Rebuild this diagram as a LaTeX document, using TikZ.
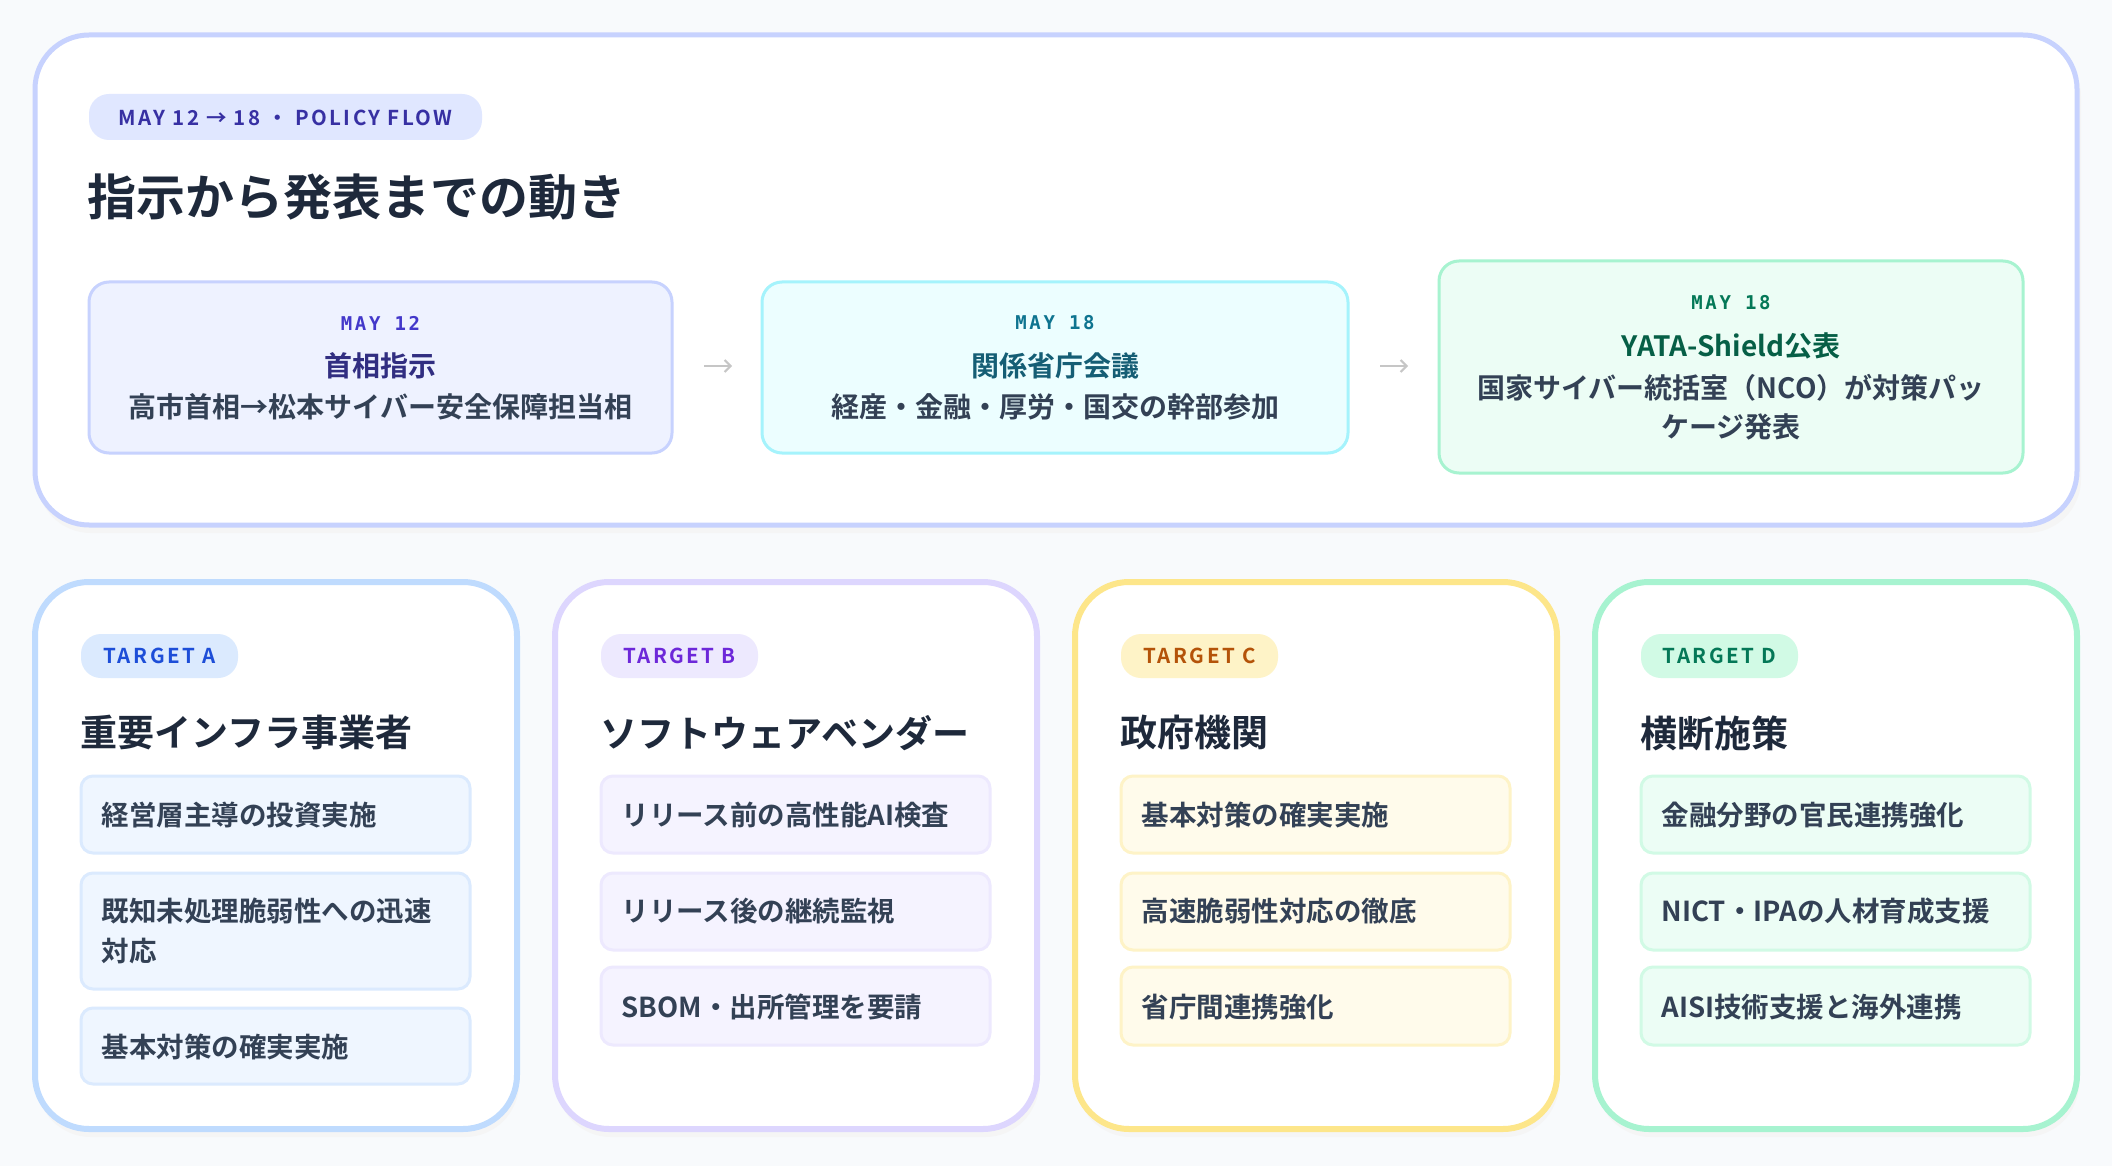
\documentclass[tikz,border=0pt]{standalone}
\usepackage{fontspec}
\setmainfont{Noto Sans CJK JP}[BoldFont={Noto Sans CJK JP Bold}]
\newfontfamily\mono{DejaVu Sans Mono}[LetterSpace=14]
\newfontfamily\spaced{Noto Sans CJK JP Bold}[LetterSpace=12]
\definecolor{bg}{HTML}{F8FAFC}
\definecolor{ink}{HTML}{1E293B}
\definecolor{itemink}{HTML}{334155}
\usetikzlibrary{arrows.meta}
\tikzset{
  x=1pt,y=-1pt,
  flowbox/.style={line width=3pt,rounded corners=20pt},
  pill/.style={rounded corners=20pt},
  itembox/.style={line width=3pt,rounded corners=12pt},
  itemtxt/.style={anchor=west,align=left,font=\bfseries\fontsize{27.5}{40}\selectfont,text=itemink},
  head/.style={anchor=west,font=\bfseries\fontsize{37}{40}\selectfont,text=ink},
  flowarrow/.style={draw=gray!45,line width=2pt,-{Straight Barb[length=6pt]}},
}
\begin{document}
\begin{tikzpicture}
\fill[bg] (0,0) rectangle (2112,1166);
\useasboundingbox (0,0) rectangle (2112,1166);
% top panel
\definecolor{lav}{HTML}{C7D2FE}
\fill[black!4,rounded corners=54pt] (37,43) rectangle (2081,533);
\draw[draw=lav,line width=5pt,fill=white,rounded corners=54pt] (35,35) rectangle (2077,525);
\fill[pill,fill={rgb,255:red,224;green,231;blue,255}] (89,94) rectangle (482,140);
\node[font=\spaced\fontsize{20.5}{24}\selectfont,text={rgb,255:red,55;green,48;blue,163}] (pilltop) at (285.5,118) {MAY 12 → 18 ・ POLICY FLOW};
\node[anchor=west,font=\bfseries\fontsize{49}{56}\selectfont,text=ink] (title) at (84,197) {指示から発表までの動き};
% flow boxes
\definecolor{f1}{HTML}{EEF2FF}\definecolor{b1}{HTML}{C7D2FE}
\definecolor{f2}{HTML}{ECFEFF}\definecolor{b2}{HTML}{A5F3FC}
\definecolor{f3}{HTML}{ECFDF5}\definecolor{b3}{HTML}{A7F3D0}
\draw[flowbox,fill=f1,draw=b1] (89,282) rectangle (672,453);
\draw[flowbox,fill=f2,draw=b2] (762,282) rectangle (1348,453);
\draw[flowbox,fill=f3,draw=b3] (1439,261) rectangle (2023,473);
\node[font=\mono\bfseries\fontsize{19}{22}\selectfont,text={rgb,255:red,67;green,56;blue,202}] (m1) at (380.5,323) {MAY 12};
\node[font=\bfseries\fontsize{28}{32}\selectfont,text={rgb,255:red,49;green,46;blue,129}] (t1) at (380.5,366) {首相指示};
\node[font=\bfseries\fontsize{28}{32}\selectfont,text=itemink] (s1) at (380.5,407) {高市首相→松本サイバー安全保障担当相};
\node[font=\mono\bfseries\fontsize{19}{22}\selectfont,text={rgb,255:red,14;green,116;blue,144}] (m2) at (1055,323) {MAY 18};
\node[font=\bfseries\fontsize{28}{32}\selectfont,text={rgb,255:red,21;green,94;blue,117}] (t2) at (1055,366) {関係省庁会議};
\node[font=\bfseries\fontsize{28}{32}\selectfont,text=itemink] (s2) at (1055,407) {経産・金融・厚労・国交の幹部参加};
\node[font=\mono\bfseries\fontsize{19}{22}\selectfont,text={rgb,255:red,4;green,120;blue,87}] (m3) at (1731,303) {MAY 18};
\node[font=\bfseries\fontsize{28}{32}\selectfont,text={rgb,255:red,6;green,95;blue,70}] (t3) at (1731,346) {YATA-Shield公表};
\node[font=\bfseries\fontsize{28}{39}\selectfont,text=itemink,align=center] (s3) at (1731,407) {国家サイバー統括室（NCO）が対策パッ\\ケージ発表};
\coordinate (a1s) at (704,366); \coordinate (a1e) at (732,366);
\coordinate (a2s) at (1380,366); \coordinate (a2e) at (1408,366);
\draw[flowarrow] (a1s) -- (a1e);
\draw[flowarrow] (a2s) -- (a2e);
% cards
\foreach \x/\bc/\pf/\pt/\lab/\hd in {
 35/BFDBFE/DBEAFE/1D4ED8/TARGET A/重要インフラ事業者,
 555/DDD6FE/EDE9FE/6D28D9/TARGET B/ソフトウェアベンダー,
 1075/FDE68A/FEF3C7/B45309/TARGET C/政府機関,
 1595/A7F3D0/D1FAE5/047857/TARGET D/横断施策}{
 \definecolor{cb}{HTML}{\bc}\definecolor{cp}{HTML}{\pf}\definecolor{ct}{HTML}{\pt}
 \fill[black!4,rounded corners=54pt] (\x+2,590) rectangle (\x+484,1137);
 \draw[draw=cb,line width=6pt,fill=white,rounded corners=54pt] (\x,582) rectangle (\x+482,1129);
 \fill[pill,fill=cp] (\x+46,634) rectangle (\x+203,678);
 \node[font=\spaced\fontsize{20.5}{24}\selectfont,text=ct] at (\x+124.5,656) {\lab};
 \node[head] at (\x+42,733) {\hd};
}
\foreach \x/\itf/\itb in {35/EFF6FF/DBEAFE,555/F5F3FF/EDE9FE,1075/FFFBEB/FEF3C7,1595/ECFDF5/D1FAE5}{
 \definecolor{cif}{HTML}{\itf}\definecolor{cib}{HTML}{\itb}
 \draw[itembox,fill=cif,draw=cib] (\x+46,776) rectangle (\x+435,853);
 \ifnum\x=35
 \draw[itembox,fill=cif,draw=cib] (\x+46,873) rectangle (\x+435,989);
 \draw[itembox,fill=cif,draw=cib] (\x+46,1008) rectangle (\x+435,1084);
 \else
 \draw[itembox,fill=cif,draw=cib] (\x+46,873) rectangle (\x+435,950);
 \draw[itembox,fill=cif,draw=cib] (\x+46,967) rectangle (\x+435,1045);
 \fi
}
\node[itemtxt] (a1) at (98,815) {経営層主導の投資実施};
\node[itemtxt] (a2) at (98,931) {既知未処理脆弱性への迅速\\対応};
\node[itemtxt] (a3) at (98,1047) {基本対策の確実実施};
\node[itemtxt] (b1) at (618,815) {リリース前の高性能AI検査};
\node[itemtxt] (b2) at (618,911) {リリース後の継続監視};
\node[itemtxt] (b3) at (618,1007) {SBOM・出所管理を要請};
\node[itemtxt] (c1) at (1138,815) {基本対策の確実実施};
\node[itemtxt] (c2) at (1138,911) {高速脆弱性対応の徹底};
\node[itemtxt] (c3) at (1138,1007) {省庁間連携強化};
\node[itemtxt] (d1) at (1658,815) {金融分野の官民連携強化};
\node[itemtxt] (d2) at (1658,911) {NICT・IPAの人材育成支援};
\node[itemtxt] (d3) at (1658,1007) {AISI技術支援と海外連携};
\end{tikzpicture}
\end{document}
